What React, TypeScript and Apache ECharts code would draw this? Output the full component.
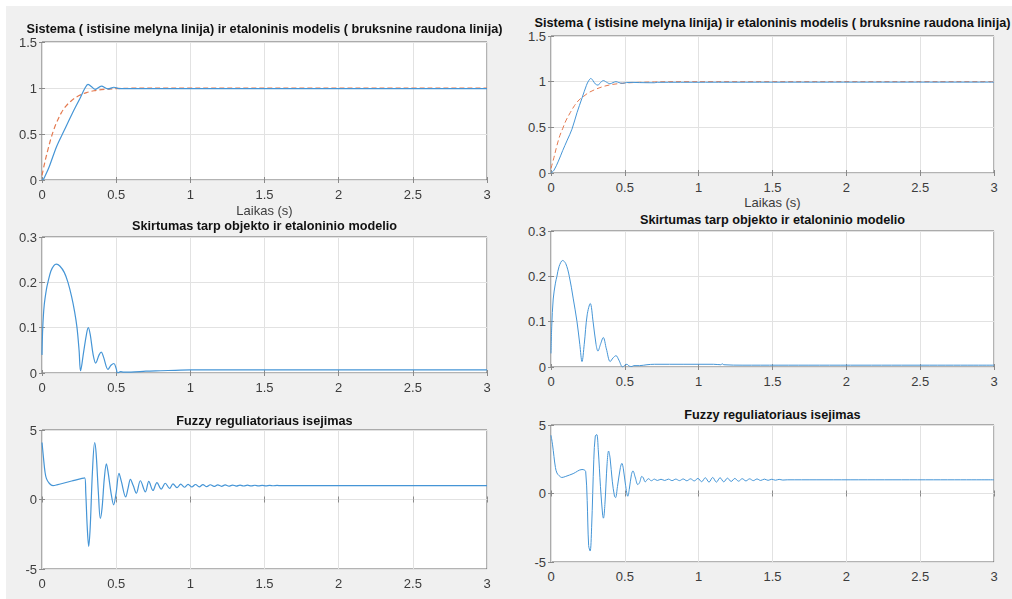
import React, { useEffect, useRef } from "react";
import * as echarts from "echarts";

// Time axis (seconds) and tick values
const timeTicks = [0, 0.5, 1, 1.5, 2, 2.5, 3];
const stepTicks = [0, 0.5, 1, 1.5];
const errorTicks = [0, 0.1, 0.2, 0.3];
const controlTicks = [-5, 0, 5];

const titleStep = "Sistema ( istisine melyna linija) ir etaloninis modelis ( bruksnine raudona linija)";
const titleError = "Skirtumas tarp objekto ir etaloninio modelio";
const titleControl = "Fuzzy reguliatoriaus isejimas";
const xLabel = "Laikas (s)";

// ---- Left run: [time, value] ----
const stepLeftSystem: number[][] = [
  [0, 0], [0.01, 0.01], [0.02, 0.04], [0.05, 0.15], [0.1, 0.37], [0.15, 0.54], [0.2, 0.71],
  [0.26, 0.9], [0.29, 1.0], [0.31, 1.04], [0.33, 1.02], [0.36, 0.985], [0.4, 1.02],
  [0.445, 0.99], [0.485, 1.008], [0.52, 0.994], [1, 0.993], [3, 0.993],
];
const stepLeftModel: number[][] = [
  [0, 0.05], [0.02, 0.2], [0.04, 0.33], [0.06, 0.45], [0.08, 0.55], [0.1, 0.63], [0.13, 0.73],
  [0.16, 0.8], [0.2, 0.865], [0.25, 0.918], [0.3, 0.95], [0.35, 0.97], [0.4, 0.982],
  [0.5, 0.993], [0.6, 0.9975], [0.7, 1.0], [3, 1.0],
];
const errorLeft: number[][] = [
  [0, 0.04], [0.005, 0.1], [0.015, 0.15], [0.03, 0.185], [0.04, 0.2], [0.06, 0.225], [0.08, 0.237],
  [0.097, 0.24], [0.12, 0.236], [0.15, 0.222], [0.175, 0.2], [0.2, 0.168], [0.22, 0.135],
  [0.236, 0.1], [0.25, 0.05], [0.26, 0.005], [0.28, 0.045], [0.3, 0.086], [0.312, 0.1],
  [0.325, 0.085], [0.345, 0.04], [0.362, 0.022], [0.385, 0.04], [0.4, 0.046], [0.415, 0.035],
  [0.445, 0.008], [0.465, 0.017], [0.485, 0.021], [0.5, 0.01], [0.51, 0.0], [0.53, 0.003],
  [0.55, 0.002], [0.6, 0.002], [0.7, 0.004], [0.8, 0.005], [0.9, 0.006], [1.0, 0.007], [3, 0.007],
];
const controlLeft: number[][] = [
  [0, 4.1], [0.01, 3.0], [0.02, 2.0], [0.03, 1.5], [0.05, 1.15], [0.074, 1.0], [0.1, 1.05],
  [0.2, 1.33], [0.288, 1.56], [0.295, 0.5], [0.305, -2.0], [0.315, -3.37], [0.325, -2.0],
  [0.34, 2.0], [0.355, 4.1], [0.365, 3.3], [0.38, 0.5], [0.393, -1.36], [0.405, -0.6],
  [0.42, 1.5], [0.434, 2.56], [0.445, 2.0], [0.465, 0.5], [0.483, -0.38], [0.5, 0.5],
  [0.519, 1.89], [0.535, 1.3], [0.564, 0.19], [0.58, 0.8], [0.596, 1.45], [0.615, 1.0],
  [0.636, 0.45], [0.663, 1.35], [0.697, 0.55], [0.72, 1.3], [0.748, 0.65], [0.775, 1.22],
  [0.804, 0.75], [0.831, 1.17], [0.86, 0.8], [0.883, 1.13], [0.91, 0.85], [0.935, 1.1],
  [0.96, 0.88], [0.985, 1.09], [1.01, 0.9], [1.035, 1.08], [1.06, 0.91], [1.085, 1.07],
  [1.11, 0.92], [1.135, 1.06], [1.16, 0.94], [1.185, 1.05], [1.21, 0.95], [1.235, 1.045],
  [1.26, 0.96], [1.285, 1.04], [1.31, 0.965], [1.335, 1.035], [1.36, 0.97], [1.385, 1.03],
  [1.41, 0.975], [1.435, 1.025], [1.46, 0.98], [1.485, 1.02], [1.51, 0.985], [1.535, 1.015],
  [1.56, 0.99], [1.585, 1.01], [1.61, 0.995], [1.65, 1.0], [3, 1.0],
];

// ---- Right run: [time, value] ----
const stepRightSystem: number[][] = [
  [0, 0], [0.02, 0.03], [0.05, 0.13], [0.079, 0.245], [0.11, 0.36], [0.142, 0.48],
  [0.176, 0.66], [0.21, 0.82], [0.24, 0.96], [0.255, 1.01], [0.27, 1.035], [0.285, 1.01],
  [0.3, 0.975], [0.318, 0.962], [0.335, 0.99], [0.355, 1.012], [0.375, 0.995], [0.4, 0.977],
  [0.42, 0.99], [0.44, 1.0], [0.46, 0.99], [0.485, 0.982], [0.51, 0.99], [0.55, 0.992],
  [0.6, 0.99], [0.7, 0.988], [0.72, 0.993], [3, 0.995],
];
const stepRightModel: number[][] = [
  [0, 0.05], [0.02, 0.17], [0.04, 0.3], [0.06, 0.41], [0.08, 0.49], [0.1, 0.57], [0.13, 0.66],
  [0.16, 0.74], [0.19, 0.8], [0.214, 0.83], [0.25, 0.875], [0.3, 0.915], [0.35, 0.945],
  [0.4, 0.965], [0.45, 0.977], [0.5, 0.985], [0.6, 0.993], [0.7, 0.997], [0.8, 1.0], [3, 1.0],
];
const errorRight: number[][] = [
  [0, 0.03], [0.005, 0.09], [0.015, 0.15], [0.03, 0.185], [0.04, 0.2], [0.055, 0.222],
  [0.079, 0.235], [0.1, 0.228], [0.124, 0.2], [0.15, 0.152], [0.176, 0.1], [0.195, 0.05],
  [0.21, 0.012], [0.225, 0.05], [0.245, 0.115], [0.266, 0.14], [0.285, 0.1], [0.305, 0.05],
  [0.318, 0.035], [0.335, 0.05], [0.354, 0.065], [0.375, 0.04], [0.401, 0.012], [0.42, 0.02],
  [0.44, 0.025], [0.46, 0.015], [0.485, 0.0], [0.5, 0.004], [0.514, 0.006], [0.53, 0.002],
  [0.548, 0.001], [0.56, 0.003], [0.6, 0.003], [0.65, 0.005], [0.7, 0.006], [1.1, 0.006],
  [1.15, 0.005], [1.16, 0.007], [1.17, 0.005], [1.3, 0.004], [3, 0.004],
];
const controlRight: number[][] = [
  [0, 4.25], [0.01, 3.6], [0.02, 2.7], [0.03, 1.9], [0.04, 1.5], [0.055, 1.3], [0.074, 1.17],
  [0.1, 1.25], [0.15, 1.45], [0.21, 1.75], [0.225, 1.72], [0.235, 1.6], [0.245, -0.5],
  [0.255, -3.8], [0.265, -4.2], [0.275, -2.5], [0.29, 2.5], [0.3, 4.2], [0.31, 4.3],
  [0.32, 3.2], [0.335, 0.5], [0.35, -1.6], [0.355, -1.8], [0.365, -0.8], [0.38, 2.2],
  [0.39, 3.1], [0.4, 2.6], [0.415, 0.9], [0.43, -0.2], [0.437, -0.3], [0.45, 0.5],
  [0.47, 1.9], [0.48, 2.2], [0.49, 1.8], [0.505, 0.6], [0.52, -0.2], [0.53, 0.3],
  [0.545, 1.4], [0.555, 1.65], [0.57, 1.2], [0.588, 0.65], [0.6, 0.8], [0.615, 1.25],
  [0.625, 1.15], [0.638, 0.85], [0.66, 1.08], [0.68, 0.93], [0.7, 1.05], [0.72, 0.95],
  [0.745, 1.04], [0.77, 0.95], [0.795, 1.05], [0.82, 0.94], [0.845, 1.05], [0.87, 0.94],
  [0.895, 1.06], [0.92, 0.93], [0.945, 1.07], [0.97, 0.92], [0.995, 1.1], [1.02, 0.86],
  [1.045, 1.15], [1.07, 0.83], [1.095, 1.17], [1.12, 0.83], [1.145, 1.15], [1.17, 0.85],
  [1.195, 1.12], [1.22, 0.88], [1.245, 1.1], [1.27, 0.9], [1.295, 1.08], [1.32, 0.92],
  [1.345, 1.07], [1.37, 0.94], [1.395, 1.06], [1.42, 0.95], [1.445, 1.05], [1.47, 0.96],
  [1.495, 1.04], [1.52, 0.97], [1.545, 1.03], [1.57, 0.98], [1.6, 1.0], [3, 1.0],
];

const FONT = "'Liberation Sans', Arial, Helvetica, sans-serif";
const BLUE = "#4595d6";
const RED = "#e47a50";
const BOX = "#666666";
const TICKMARK = "#8a8a8a";
const GRIDLINE = "#e2e2e2";
const TICKTEXT = "#3c3c3c";

type Panel = {
  rect: { left: number; top: number; width: number; height: number };
  ticks: number[];
  title: string;
  titleY: number;
  xlabelY?: number;
  lines: { data: number[][]; color: string; dashed?: boolean }[];
};

// Left figure (page x 0..510)
const leftPanels: Panel[] = [
  {
    rect: { left: 42, top: 42, width: 445, height: 138 }, ticks: stepTicks, title: titleStep, titleY: 29, xlabelY: 210,
    lines: [{ data: stepLeftSystem, color: BLUE }, { data: stepLeftModel, color: RED, dashed: true }],
  },
  {
    rect: { left: 42, top: 237, width: 445, height: 136 }, ticks: errorTicks, title: titleError, titleY: 226,
    lines: [{ data: errorLeft, color: BLUE }],
  },
  {
    rect: { left: 42, top: 430, width: 445, height: 139 }, ticks: controlTicks, title: titleControl, titleY: 421,
    lines: [{ data: controlLeft, color: BLUE }],
  },
];

// Right figure (page x 510..1012, coordinates local to its own canvas)
const RIGHT_X = 510;
const rightPanels: Panel[] = [
  {
    rect: { left: 551 - RIGHT_X, top: 36, width: 443, height: 137 }, ticks: stepTicks, title: titleStep, titleY: 22.5, xlabelY: 202,
    lines: [{ data: stepRightSystem, color: BLUE }, { data: stepRightModel, color: RED, dashed: true }],
  },
  {
    rect: { left: 551 - RIGHT_X, top: 231, width: 443, height: 136 }, ticks: errorTicks, title: titleError, titleY: 220,
    lines: [{ data: errorRight, color: BLUE }],
  },
  {
    rect: { left: 551 - RIGHT_X, top: 425, width: 443, height: 137 }, ticks: controlTicks, title: titleControl, titleY: 415,
    lines: [{ data: controlRight, color: BLUE }],
  },
];

function buildOption(panels: Panel[], lineWidth: number) {
  const grid: any[] = [];
  const xAxis: any[] = [];
  const yAxis: any[] = [];
  const series: any[] = [];
  const graphic: any[] = [];

  const tick = { show: true, inside: true, length: 3, lineStyle: { color: TICKMARK, width: 1 } };

  panels.forEach((p, i) => {
    grid.push({
      ...p.rect,
      show: true,
      backgroundColor: "#ffffff",
      borderColor: BOX,
      borderWidth: 1,
    });
    const yMin = p.ticks[0];
    const yMax = p.ticks[p.ticks.length - 1];
    const yStep = p.ticks[1] - p.ticks[0];
    const xStep = timeTicks[1] - timeTicks[0];
    xAxis.push({
      type: "value", gridIndex: i, position: "bottom",
      min: timeTicks[0], max: timeTicks[timeTicks.length - 1], interval: xStep,
      axisLine: { show: false }, axisTick: tick,
      axisLabel: { color: TICKTEXT, fontSize: 13, fontFamily: FONT, margin: 7, lineHeight: 14 },
      splitLine: { show: true, lineStyle: { color: GRIDLINE, width: 1 } },
    });
    xAxis.push({
      type: "value", gridIndex: i, position: "top",
      min: timeTicks[0], max: timeTicks[timeTicks.length - 1], interval: xStep,
      axisLine: { show: false }, axisTick: tick, axisLabel: { show: false }, splitLine: { show: false },
    });
    yAxis.push({
      type: "value", gridIndex: i, position: "left",
      min: yMin, max: yMax, interval: yStep,
      axisLine: { show: false }, axisTick: tick,
      axisLabel: {
        color: TICKTEXT, fontSize: 13, fontFamily: FONT, margin: 5, lineHeight: 13,
        formatter: (v: number) => String(Math.round(v * 1000) / 1000),
      },
      splitLine: { show: true, lineStyle: { color: GRIDLINE, width: 1 } },
    });
    yAxis.push({
      type: "value", gridIndex: i, position: "right",
      min: yMin, max: yMax, interval: yStep,
      axisLine: { show: false }, axisTick: tick, axisLabel: { show: false }, splitLine: { show: false },
    });

    p.lines.forEach((ln) => {
      series.push({
        type: "line",
        xAxisIndex: 2 * i,
        yAxisIndex: 2 * i,
        data: ln.data,
        showSymbol: false,
        smooth: 0.35,
        clip: true,
        lineStyle: { color: ln.color, width: lineWidth, type: ln.dashed ? [5, 3] : "solid" },
        z: ln.dashed ? 3 : 4,
      });
    });

    const cx = p.rect.left + p.rect.width / 2;
    graphic.push({
      type: "text", x: cx, y: p.titleY,
      style: {
        text: p.title, fill: "#111", font: `bold 12.7px ${FONT}`,
        textAlign: "center", textVerticalAlign: "middle", lineHeight: 13,
      },
    });
    if (p.xlabelY !== undefined) {
      graphic.push({
        type: "text", x: cx, y: p.xlabelY,
        style: {
          text: xLabel, fill: TICKTEXT, font: `13px ${FONT}`,
          textAlign: "center", textVerticalAlign: "middle",
        },
      });
    }
  });

  return {
    animation: false,
    backgroundColor: "transparent",
    grid, xAxis, yAxis, series, graphic,
  };
}

function Figure(props: { panels: Panel[]; left: number; width: number; lineWidth: number; soft?: boolean }) {
  const ref = useRef<HTMLDivElement>(null);
  useEffect(() => {
    if (!ref.current) return;
    const chart = echarts.init(ref.current, null, { renderer: "svg" });
    chart.setOption(buildOption(props.panels, props.lineWidth));
    return () => chart.dispose();
  }, []);
  return (
    <div
      ref={ref}
      style={{
        position: "absolute", left: props.left, top: 0, width: props.width, height: 599,
        filter: props.soft ? "blur(0.45px)" : undefined,
      }}
    />
  );
}

export default function App() {
  return (
    <div style={{ position: "absolute", left: 0, top: 0, width: 1012, height: 599, background: "#ffffff", overflow: "hidden" }}>
      <div style={{ position: "absolute", left: 6, top: 6, width: 1006, height: 593, background: "#f0f0f0" }} />
      <Figure panels={leftPanels} left={0} width={RIGHT_X} lineWidth={1.2} soft />
      <Figure panels={rightPanels} left={RIGHT_X} width={1012 - RIGHT_X} lineWidth={1} />
    </div>
  );
}
